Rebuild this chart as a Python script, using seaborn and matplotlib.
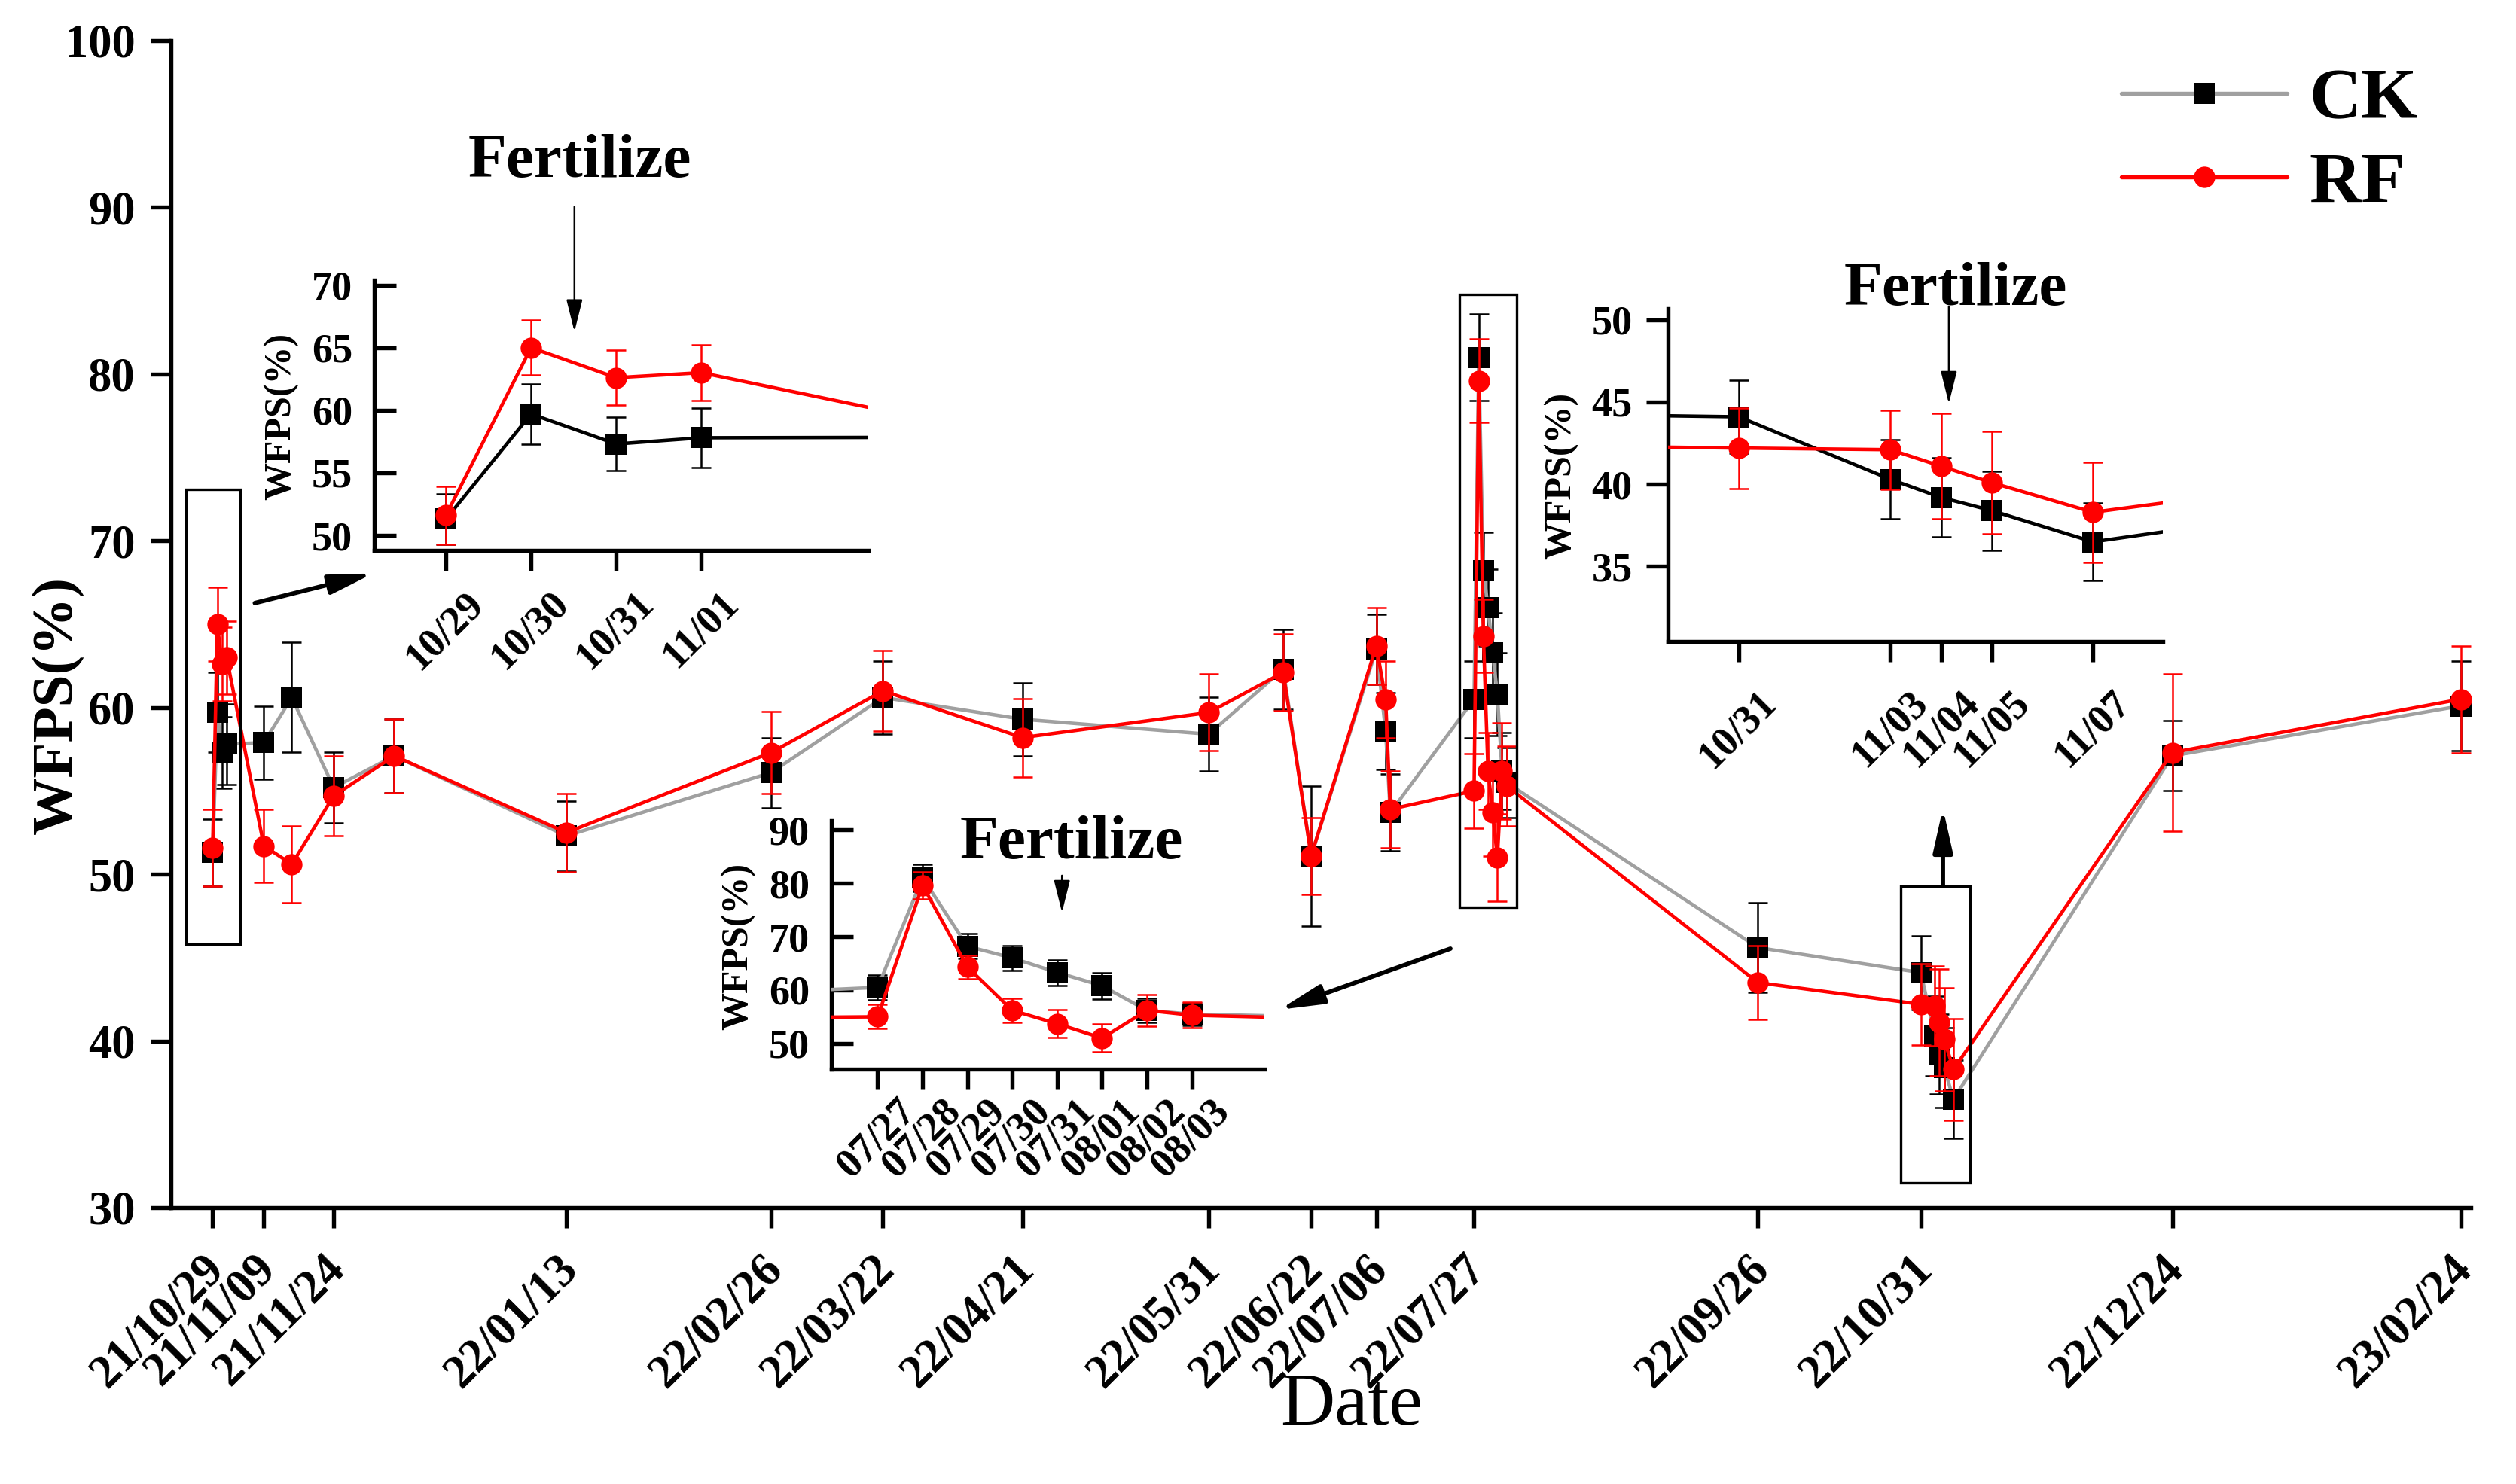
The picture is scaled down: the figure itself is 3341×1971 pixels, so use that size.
import numpy as np
import pandas as pd
import matplotlib
matplotlib.use("Agg")
import matplotlib.pyplot as plt
import matplotlib.dates as mdates
import matplotlib.transforms as mtransforms
from matplotlib.patches import Rectangle
from matplotlib.lines import Line2D
import seaborn as sns

# ---------------- data ----------------
dates = ['2021-10-29', '2021-10-30', '2021-10-31', '2021-11-01', '2021-11-09', '2021-11-15',
         '2021-11-24', '2021-12-07', '2022-01-13', '2022-02-26', '2022-03-22', '2022-04-21',
         '2022-05-31', '2022-06-16', '2022-06-22', '2022-07-06', '2022-07-08', '2022-07-09',
         '2022-07-27', '2022-07-28', '2022-07-29', '2022-07-30', '2022-07-31', '2022-08-01',
         '2022-08-02', '2022-08-03', '2022-09-26', '2022-10-31', '2022-11-03', '2022-11-04',
         '2022-11-05', '2022-11-07', '2022-12-24', '2023-02-24']
ck_mean = [51.3, 59.7, 57.3, 57.8, 57.9, 60.6, 55.2, 57.1, 52.3, 56.1, 60.6, 59.3,
           58.4, 62.3, 51.1, 63.5, 58.6, 53.7, 60.5, 81.0, 68.2, 66.0, 63.3, 60.8,
           56.2, 55.5, 45.6, 44.1, 40.3, 39.2, 38.4, 36.5, 57.1, 60.1]
ck_sd = [2.0, 2.4, 2.15, 2.4, 2.2, 3.3, 2.1, 2.2, 2.1, 2.1, 2.2, 2.2,
         2.2, 2.4, 4.2, 2.1, 2.3, 2.3, 2.3, 2.6, 2.3, 2.3, 2.4, 2.5,
         2.3, 2.1, 2.7, 2.2, 2.4, 2.4, 2.4, 2.35, 2.1, 2.7]
rf_mean = [51.6, 65.0, 62.6, 63.0, 51.7, 50.6, 54.7, 57.1, 52.5, 57.3, 61.0, 58.2,
           59.7, 62.1, 51.1, 63.7, 60.5, 53.9, 55.0, 79.6, 64.3, 56.2, 53.7, 51.0,
           56.2, 55.3, 43.5, 42.2, 42.1, 41.1, 40.1, 38.3, 57.3, 60.5]
rf_sd = [2.3, 2.2, 2.2, 2.2, 2.2, 2.3, 2.4, 2.2, 2.35, 2.45, 2.4, 2.35,
         2.3, 2.3, 2.3, 2.3, 2.3, 2.3, 2.25, 2.5, 2.2, 2.3, 2.6, 2.6,
         2.9, 2.4, 2.2, 2.45, 2.4, 3.2, 3.1, 3.05, 4.7, 3.2]

main_ticks = ['2021-10-29', '2021-11-09', '2021-11-24', '2022-01-13', '2022-02-26', '2022-03-22',
              '2022-04-21', '2022-05-31', '2022-06-22', '2022-07-06', '2022-07-27', '2022-09-26',
              '2022-10-31', '2022-12-24', '2023-02-24']
inset1_ticks = ['2021-10-29', '2021-10-30', '2021-10-31', '2021-11-01']
inset2_ticks = ['2022-10-31', '2022-11-03', '2022-11-04', '2022-11-05', '2022-11-07']
inset3_ticks = ['2022-07-27', '2022-07-28', '2022-07-29', '2022-07-30', '2022-07-31',
                '2022-08-01', '2022-08-02', '2022-08-03']
series_labels = ['CK', 'RF']

# ---------------- style ----------------
sns.set_style("ticks")
plt.rcParams['font.family'] = ['Liberation Serif', 'DejaVu Serif']
plt.rcParams['font.weight'] = 'bold'
plt.rcParams['axes.linewidth'] = 1.3
plt.rcParams['axes.facecolor'] = 'white'
for key in ['text.color', 'axes.labelcolor', 'xtick.color', 'ytick.color',
            'axes.edgecolor', 'xtick.labelcolor', 'ytick.labelcolor']:
    plt.rcParams[key] = 'black'

GRAY = '#a0a0a0'
RED = '#ff0000'

df = pd.DataFrame({'date': pd.to_datetime(dates), 'CK': ck_mean, 'CK_sd': ck_sd,
                   'RF': rf_mean, 'RF_sd': rf_sd})

W, H = 3341, 1971
fig = plt.figure(figsize=(W / 300, H / 300), dpi=300)


def px_rect(l, t, r, b):
    return [l / W, 1 - b / H, (r - l) / W, (b - t) / H]


def draw(ax, ck_line, lw=1.1, ms=6.8, cap=3.2, elw=0.6):
    ax.errorbar(df['date'], df['CK'], yerr=df['CK_sd'], fmt='none', ecolor='black',
                elinewidth=elw, capsize=cap, capthick=elw, zorder=2)
    ax.errorbar(df['date'], df['RF'], yerr=df['RF_sd'], fmt='none', ecolor=RED,
                elinewidth=elw, capsize=cap, capthick=elw, zorder=4)
    sns.lineplot(data=df, x='date', y='CK', ax=ax, color=ck_line, lw=lw, marker='s',
                 markersize=ms, markerfacecolor='black', markeredgecolor='black',
                 markeredgewidth=0, errorbar=None, zorder=3)
    sns.lineplot(data=df, x='date', y='RF', ax=ax, color=RED, lw=lw, marker='o',
                 markersize=ms, markerfacecolor=RED, markeredgecolor=RED,
                 markeredgewidth=0, errorbar=None, zorder=5)
    ax.set_xlabel('')
    ax.set_ylabel('')
    sns.despine(ax=ax)


def rotate_xlabels(axi, dx_pt):
    shift = mtransforms.ScaledTranslation(dx_pt / 72, 0, fig.dpi_scale_trans)
    for lab in axi.get_xticklabels():
        lab.set_rotation(45)
        lab.set_ha('right')
        lab.set_rotation_mode('anchor')
        lab.set_transform(lab.get_transform() + shift)


# ---------------- main axes ----------------
ax = fig.add_axes(px_rect(226.8, 54, 3280.6, 1604))
draw(ax, GRAY)
ax.set_xlim(pd.Timestamp('2021-10-20'), pd.Timestamp('2023-02-26 02:00'))
ax.set_ylim(30, 100)
ax.set_yticks(np.arange(30, 101, 10))
ax.set_xticks(pd.to_datetime(main_ticks))
ax.xaxis.set_major_formatter(mdates.DateFormatter('%y/%m/%d'))
ax.tick_params(direction='out', length=6.5, width=1.3, labelsize=15, pad=4.8)
ax.tick_params(axis='x', pad=6)
rotate_xlabels(ax, -3.4)
ax.set_xlabel('Date', fontsize=24, fontweight='normal')
ax.set_ylabel('WFPS(%)', fontsize=18.5, fontweight='bold')
ax.xaxis.set_label_coords(0.5135, -0.1703)
ax.xaxis.label.set_va('center')
ax.yaxis.set_label_coords(-0.04915, 0.4305)
ax.yaxis.label.set_va('center')

base = pd.Timestamp('2021-10-29')
boxes = [(-5.74, 5.95, 45.8, 73.1), (267.8, 280.2, 48.0, 84.8), (362.7, 377.5, 31.5, 49.3)]
for d0, d1, y0, y1 in boxes:
    ax.add_patch(Rectangle((mdates.date2num(base) + d0, y0), d1 - d0, y1 - y0,
                           fill=False, lw=0.8, ec='black', zorder=6))

handles = [Line2D([], [], color=GRAY, lw=1.3, marker='s', ms=6.8, mfc='black', mec='black', mew=0),
           Line2D([], [], color=RED, lw=1.3, marker='o', ms=6.8, mfc=RED, mec=RED, mew=0)]
fig.legend(handles, series_labels, loc='center left', bbox_to_anchor=(2817 / W, 1 - 189.6 / H),
           frameon=False, prop={'size': 23, 'weight': 'bold'}, handlelength=2.3,
           handletextpad=0.3, labelspacing=0.25, borderpad=0, borderaxespad=0)


def setup_inset(axi, ck_line, xlim, ylim, yticks, xticks, ydir, ypad, xpad, ylab_xy):
    draw(axi, ck_line)
    axi.set_xlim(*xlim)
    axi.set_ylim(*ylim)
    axi.set_yticks(yticks)
    axi.set_xticks(pd.to_datetime(xticks))
    axi.xaxis.set_major_formatter(mdates.DateFormatter('%m/%d'))
    axi.tick_params(axis='y', direction=ydir, length=7, width=1.3, labelsize=13, pad=ypad)
    axi.tick_params(axis='x', direction='out', length=6.5, width=1.3, labelsize=13, pad=xpad)
    rotate_xlabels(axi, 6.0)
    axi.set_ylabel('WFPS(%)', fontsize=12, fontweight='bold')
    axi.yaxis.set_label_coords(*ylab_xy)
    axi.yaxis.label.set_va('center')
    axi.patch.set_alpha(0)


d = pd.Timedelta
ax1 = fig.add_axes(px_rect(497.2, 372, 1153, 731))
setup_inset(ax1, 'black',
            (pd.Timestamp('2021-10-29') - d(days=0.84), pd.Timestamp('2021-11-01') + d(days=1.96)),
            (48.8, 70.4), [50, 55, 60, 65, 70], inset1_ticks, 'in', 7, 4.5, (-0.1885, 0.495))

ax2 = fig.add_axes(px_rect(2215.3, 410.4, 2872, 851.7))
setup_inset(ax2, 'black',
            (pd.Timestamp('2022-10-31') - d(days=1.39), pd.Timestamp('2022-11-07') + d(days=1.38)),
            (30.46, 50.65), [35, 40, 45, 50], inset2_ticks, 'out', 4.4, 7.2, (-0.2167, 0.498))

ax3 = fig.add_axes(px_rect(1104.1, 1090.4, 1678.6, 1420))
setup_inset(ax3, GRAY,
            (pd.Timestamp('2022-07-27') - d(days=1.03), pd.Timestamp('2022-08-03') + d(days=1.61)),
            (45.2, 91.65), [50, 60, 70, 80, 90], inset3_ticks, 'in', 7, 1.0, (-0.215, 0.4936))

# ---------------- annotations ----------------
def fig_arrow(x0, y0, x1, y1, big=True):
    if big:
        props = dict(arrowstyle='-|>,head_length=0.58,head_width=0.13', mutation_scale=20,
                     lw=1.4, color='black', shrinkA=0, shrinkB=0)
    else:
        props = dict(arrowstyle='-|>,head_length=0.44,head_width=0.11', mutation_scale=20,
                     lw=0.6, color='black', shrinkA=0, shrinkB=0)
    ax.annotate('', xy=(x1, H - y1), xycoords='figure pixels',
                xytext=(x0, H - y0), textcoords='figure pixels', arrowprops=props)


fig_arrow(338.4, 800.9, 495.5, 761.6)
fig_arrow(1926, 1260, 1699, 1341)
fig_arrow(2580, 1176.6, 2580, 1073.5)
fig_arrow(762.8, 274.5, 762.8, 440.5, big=False)
fig_arrow(2587.9, 407, 2587.9, 535.8, big=False)
fig_arrow(1410.2, 1162.9, 1410.2, 1211.8, big=False)

for cx, by in [(769.5, 235), (2597, 405), (1423.2, 1140.4)]:
    fig.text(cx / W, 1 - by / H, 'Fertilize', ha='center', va='baseline',
             fontsize=20, fontweight='bold')

fig.savefig('out.png', dpi=300)
